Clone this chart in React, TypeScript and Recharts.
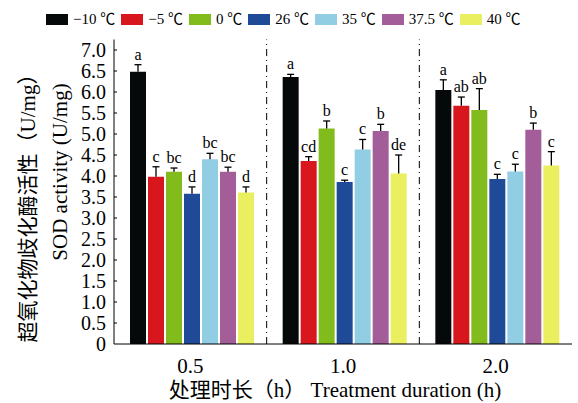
import { BarChart, Bar, XAxis, YAxis, ReferenceLine } from 'recharts';

const durations = ['0.5', '1.0', '2.0'];
const seriesNames = ['−10 ℃', '−5 ℃', '0 ℃', '26 ℃', '35 ℃', '37.5 ℃', '40 ℃'];
const seriesColors = ['#06090a', '#d8161d', '#82bb1c', '#1f4a97', '#92cee3', '#a35e9a', '#eaef5f'];

// values per series, one per duration
const sodMeans = [
  [6.48, 6.36, 6.05],
  [3.98, 4.36, 5.67],
  [4.1, 5.13, 5.57],
  [3.58, 3.86, 3.93],
  [4.4, 4.63, 4.11],
  [4.1, 5.07, 5.1],
  [3.61, 4.06, 4.25],
];
const sodErrors = [
  [0.17, 0.06, 0.24],
  [0.24, 0.1, 0.21],
  [0.09, 0.18, 0.51],
  [0.16, 0.04, 0.11],
  [0.14, 0.24, 0.17],
  [0.11, 0.16, 0.16],
  [0.13, 0.44, 0.33],
];
const sigLetters = [
  ['a', 'a', 'a'],
  ['c', 'cd', 'ab'],
  ['bc', 'b', 'ab'],
  ['d', 'c', 'c'],
  ['bc', 'c', 'c'],
  ['bc', 'b', 'b'],
  ['d', 'de', 'c'],
];
const yTicks = [0, 0.5, 1, 1.5, 2, 2.5, 3, 3.5, 4, 4.5, 5, 5.5, 6, 6.5, 7];

const data = durations.map((d, i) => {
  const row: Record<string, string | number> = { duration: d };
  seriesNames.forEach((_, s) => {
    row['s' + s] = sodMeans[s][i];
  });
  return row;
});

const serif = '"Liberation Serif", "Times New Roman", "Noto Sans CJK SC", serif';

const makeLabel = (s: number) => (props: any) => {
  const { x, y, width, height, value, index } = props;
  const err = sodErrors[s][index];
  const pxPerUnit = height / value;
  const cx = x + width / 2;
  const top = y - err * pxPerUnit;
  return (
    <g>
      <line x1={cx} x2={cx} y1={y} y2={top} stroke="#000" strokeWidth={1.3} />
      <line x1={cx - 3.5} x2={cx + 3.5} y1={top} y2={top} stroke="#000" strokeWidth={1.3} />
      <text x={cx} y={top - 5} textAnchor="middle" fontSize={16} fontFamily={serif} fill="#000">
        {sigLetters[s][index]}
      </text>
    </g>
  );
};

const YTick = (props: any) => {
  const { x, y, payload } = props;
  const label = payload.value === 0 ? '0' : payload.value.toFixed(1);
  return (
    <g>
      {payload.value !== 0 && <line x1={x + 8} x2={x + 11} y1={y} y2={y} stroke="#000" strokeWidth={1} />}
      <text x={x} y={y} dy={6.5} textAnchor="end" fontSize={20} fontFamily={serif} fill="#000">
        {label}
      </text>
    </g>
  );
};

export default function App() {
  return (
    <div style={{ position: 'relative', width: 578, height: 403, background: '#fff', fontFamily: serif }}>
      <style>{'body{margin:0}'}</style>
      <div
        style={{
          position: 'absolute',
          top: 11,
          left: 46,
          display: 'flex',
          alignItems: 'center',
          fontSize: 15,
          lineHeight: '17px',
          whiteSpace: 'nowrap',
        }}
      >
        {seriesNames.map((n, i) => (
          <div key={n} style={{ display: 'flex', alignItems: 'center', marginRight: 6 }}>
            <span style={{ width: 22, height: 11, background: seriesColors[i], marginRight: 5, display: 'inline-block' }} />
            <span>{n}</span>
          </div>
        ))}
      </div>
      <BarChart
        width={578}
        height={403}
        data={data}
        margin={{ top: 39.5, right: 6, bottom: 29, left: 0 }}
        barCategoryGap={16}
        barGap={2}
      >
        <XAxis
          dataKey="duration"
          height={30}
          tickLine={false}
          tickMargin={8}
          axisLine={{ stroke: '#000', strokeWidth: 1 }}
          tick={{ fontSize: 21, fill: '#000', fontFamily: serif }}
        />
        <YAxis
          width={114}
          domain={[0, 7.25]}
          ticks={yTicks}
          interval={0}
          tickLine={false}
          tickSize={0}
          tickMargin={8}
          axisLine={{ stroke: '#000', strokeWidth: 1 }}
          tick={<YTick />}
        />
        <ReferenceLine x="1.0" position="start" stroke="#000" strokeWidth={1} strokeDasharray="7 4 1 4" />
        <ReferenceLine x="2.0" position="start" stroke="#000" strokeWidth={1} strokeDasharray="7 4 1 4" />
        {seriesNames.map((n, s) => (
          <Bar
            key={n}
            dataKey={'s' + s}
            name={n}
            fill={seriesColors[s]}
            isAnimationActive={false}
            label={makeLabel(s)}
          />
        ))}
        <text
          transform="translate(28,203) rotate(-90)"
          textAnchor="middle"
          dominantBaseline="central"
          fontSize={21}
          fontFamily={serif}
          fill="#000"
        >
          超氧化物歧化酶活性（U/mg）
        </text>
        <text
          transform="translate(60,172) rotate(-90)"
          textAnchor="middle"
          dominantBaseline="central"
          fontSize={21}
          fontFamily={serif}
          fill="#000"
        >
          SOD activity (U/mg)
        </text>
        <text x={335} y={397} textAnchor="middle" fontSize={21} fontFamily={serif} fill="#000">
          处理时长（h） Treatment duration (h)
        </text>
      </BarChart>
    </div>
  );
}
